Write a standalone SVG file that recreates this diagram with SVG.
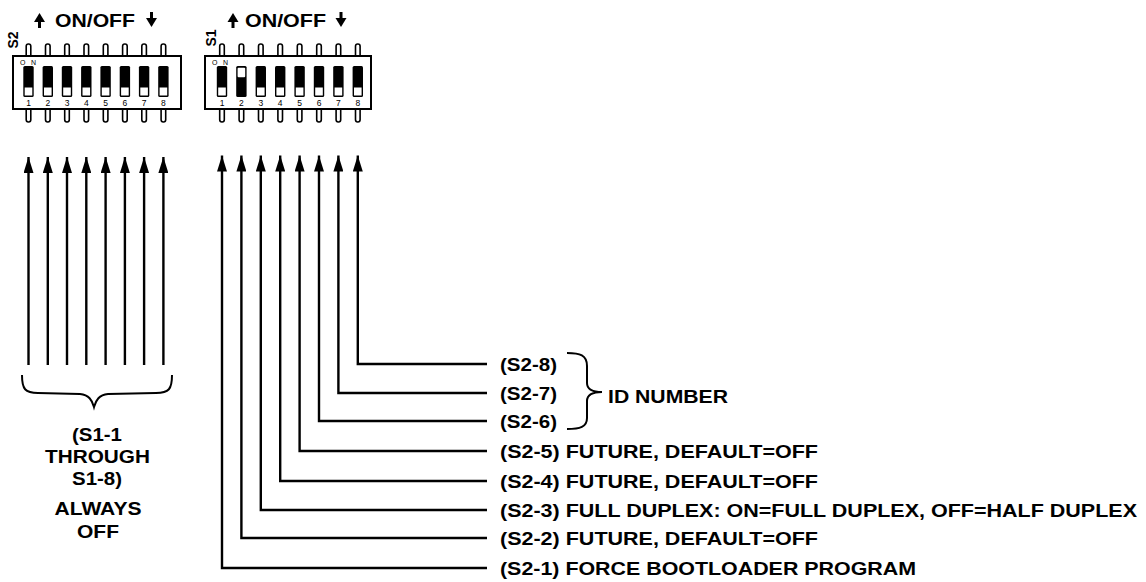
<svg xmlns="http://www.w3.org/2000/svg" width="1146" height="582" viewBox="0 0 1146 582">
<style>
  .t{font-family:"Liberation Sans",Arial,sans-serif;font-weight:bold;font-size:19px;fill:#000}
  .lbl{font-family:"Liberation Sans",Arial,sans-serif;font-weight:bold;font-size:14px;fill:#000}
  .num{font-family:"Liberation Sans",Arial,sans-serif;font-size:8.5px;fill:#000;text-anchor:middle}
  .on{font-family:"Liberation Sans",Arial,sans-serif;font-size:7px;fill:#000}
  .pin{fill:#fff;stroke:#000;stroke-width:1.6}
  .box{fill:#fff;stroke:#000;stroke-width:2}
  .sw{fill:#000}
  .wh{fill:#fff}
  .ln{fill:none;stroke:#000;stroke-width:2.4}
  .br{fill:none;stroke:#000;stroke-width:2}
</style>
<defs>
  <marker id="ah" viewBox="0 0 16 10" refX="16" refY="5" markerWidth="16" markerHeight="10" markerUnits="userSpaceOnUse" orient="auto">
    <path d="M0,0 L16,5 L0,10 z" fill="#000"/>
  </marker>
  <g id="pins">
    <rect class="pin" x="-2.3" y="44" width="4.6" height="15" rx="2.2"/>
    <rect class="pin" x="-2.3" y="106" width="4.6" height="16" rx="2.2"/>
  </g>
  <g id="swoff">
    <rect class="sw" x="-5.2" y="66" width="10.4" height="31" rx="1.5"/>
    <rect class="wh" x="-3.8" y="87.5" width="7.6" height="8"/>
  </g>
  <g id="swon">
    <rect class="sw" x="-5.2" y="66" width="10.4" height="31" rx="1.5"/>
    <rect class="wh" x="-3.8" y="67.8" width="7.6" height="9.5" rx="1"/>
  </g>
  <g id="upa">
    <path d="M0,-14 L-5.5,-5 L5.5,-5 z" fill="#000"/>
    <rect x="-1.5" y="-6" width="3" height="7" fill="#000"/>
  </g>
  <g id="dna">
    <rect x="-1.5" y="-14" width="3" height="7" fill="#000"/>
    <path d="M-5.5,-8 L5.5,-8 L0,1 z" fill="#000"/>
  </g>
</defs>

<g id="switch-s2">
  <use href="#upa" x="39.5" y="27"/>
  <text class="t" x="55" y="26.7" textLength="80" lengthAdjust="spacingAndGlyphs">ON/OFF</text>
  <use href="#dna" x="151.5" y="26"/>
  <text class="lbl" transform="translate(18,40) rotate(-90)" text-anchor="middle">S2</text>
  <use href="#pins" x="28.5"/><use href="#pins" x="47.8"/><use href="#pins" x="67"/><use href="#pins" x="86.3"/>
  <use href="#pins" x="105.6"/><use href="#pins" x="124.9"/><use href="#pins" x="144.1"/><use href="#pins" x="163.4"/>
  <rect class="box" x="13" y="56" width="168" height="53"/>
  <text class="on" x="20" y="64.5" textLength="16" lengthAdjust="spacing">ON</text>
  <use href="#swoff" x="28.5"/><use href="#swoff" x="47.8"/><use href="#swoff" x="67"/><use href="#swoff" x="86.3"/>
  <use href="#swoff" x="105.6"/><use href="#swoff" x="124.9"/><use href="#swoff" x="144.1"/><use href="#swoff" x="163.4"/>
  <text class="num" x="28.5" y="106">1</text><text class="num" x="47.8" y="106">2</text>
  <text class="num" x="67" y="106">3</text><text class="num" x="86.3" y="106">4</text>
  <text class="num" x="105.6" y="106">5</text><text class="num" x="124.9" y="106">6</text>
  <text class="num" x="144.1" y="106">7</text><text class="num" x="163.4" y="106">8</text>
</g>

<g id="switch-s1">
  <use href="#upa" x="233" y="27"/>
  <text class="t" x="245" y="26.7" textLength="81" lengthAdjust="spacingAndGlyphs">ON/OFF</text>
  <use href="#dna" x="341" y="26"/>
  <text class="lbl" transform="translate(216,38) rotate(-90)" text-anchor="middle">S1</text>
  <use href="#pins" x="222"/><use href="#pins" x="241.4"/><use href="#pins" x="260.8"/><use href="#pins" x="280.2"/>
  <use href="#pins" x="299.6"/><use href="#pins" x="319"/><use href="#pins" x="338.4"/><use href="#pins" x="357.8"/>
  <rect class="box" x="205" y="56" width="166" height="53"/>
  <text class="on" x="212" y="64.5" textLength="16" lengthAdjust="spacing">ON</text>
  <use href="#swoff" x="222"/><use href="#swon" x="241.4"/><use href="#swoff" x="260.8"/><use href="#swoff" x="280.2"/>
  <use href="#swoff" x="299.6"/><use href="#swoff" x="319"/><use href="#swoff" x="338.4"/><use href="#swoff" x="357.8"/>
  <text class="num" x="222" y="106">1</text><text class="num" x="241.4" y="106">2</text>
  <text class="num" x="260.8" y="106">3</text><text class="num" x="280.2" y="106">4</text>
  <text class="num" x="299.6" y="106">5</text><text class="num" x="319" y="106">6</text>
  <text class="num" x="338.4" y="106">7</text><text class="num" x="357.8" y="106">8</text>
</g>

<g id="connectors">
  <path class="ln" marker-end="url(#ah)" d="M28.5,365 V157"/>
  <path class="ln" marker-end="url(#ah)" d="M47.8,365 V157"/>
  <path class="ln" marker-end="url(#ah)" d="M67,365 V157"/>
  <path class="ln" marker-end="url(#ah)" d="M86.3,365 V157"/>
  <path class="ln" marker-end="url(#ah)" d="M105.6,365 V157"/>
  <path class="ln" marker-end="url(#ah)" d="M124.9,365 V157"/>
  <path class="ln" marker-end="url(#ah)" d="M144.1,365 V157"/>
  <path class="ln" marker-end="url(#ah)" d="M163.4,365 V157"/>

  <path class="ln" marker-end="url(#ah)" d="M487,568 H222 V155.5"/>
  <path class="ln" marker-end="url(#ah)" d="M487,538 H241.4 V155.5"/>
  <path class="ln" marker-end="url(#ah)" d="M487,510 H260.8 V155.5"/>
  <path class="ln" marker-end="url(#ah)" d="M487,481 H280.2 V155.5"/>
  <path class="ln" marker-end="url(#ah)" d="M487,451 H299.6 V155.5"/>
  <path class="ln" marker-end="url(#ah)" d="M487,421 H319 V155.5"/>
  <path class="ln" marker-end="url(#ah)" d="M487,393 H338.4 V155.5"/>
  <path class="ln" marker-end="url(#ah)" d="M487,364 H357.8 V155.5"/>
</g>

<g id="always-off">
  <path class="br" d="M22,375 C22,389 25,393 38,393 L80,394 C89,395 92,400 94,407 C96,400 99,395 108,394 L156,393 C169,393 172,389 172,375"/>
  <text class="t" x="97" y="441" text-anchor="middle" textLength="50" lengthAdjust="spacingAndGlyphs">(S1-1</text>
  <text class="t" x="97.5" y="463" text-anchor="middle" textLength="105" lengthAdjust="spacingAndGlyphs">THROUGH</text>
  <text class="t" x="97" y="485" text-anchor="middle" textLength="50" lengthAdjust="spacingAndGlyphs">S1-8)</text>
  <text class="t" x="98" y="515" text-anchor="middle" textLength="87" lengthAdjust="spacingAndGlyphs">ALWAYS</text>
  <text class="t" x="98" y="538" text-anchor="middle" textLength="42" lengthAdjust="spacingAndGlyphs">OFF</text>
</g>

<g id="labels">
  <text class="t" x="500" y="371" textLength="57" lengthAdjust="spacingAndGlyphs">(S2-8)</text>
  <text class="t" x="500" y="400" textLength="57" lengthAdjust="spacingAndGlyphs">(S2-7)</text>
  <text class="t" x="500" y="428" textLength="57" lengthAdjust="spacingAndGlyphs">(S2-6)</text>
  <text class="t" x="500" y="458" textLength="318" lengthAdjust="spacingAndGlyphs">(S2-5) FUTURE, DEFAULT=OFF</text>
  <text class="t" x="500" y="488" textLength="318" lengthAdjust="spacingAndGlyphs">(S2-4) FUTURE, DEFAULT=OFF</text>
  <text class="t" x="500" y="517" textLength="637" lengthAdjust="spacingAndGlyphs">(S2-3) FULL DUPLEX: ON=FULL DUPLEX, OFF=HALF DUPLEX</text>
  <text class="t" x="500" y="545" textLength="318" lengthAdjust="spacingAndGlyphs">(S2-2) FUTURE, DEFAULT=OFF</text>
  <text class="t" x="500" y="575" textLength="416" lengthAdjust="spacingAndGlyphs">(S2-1) FORCE BOOTLOADER PROGRAM</text>
</g>

<g id="id-number">
  <path class="br" d="M567,353 C580,353 587,355 587,366 L587,383 C587,389 592,392 602,392 C592,392 587,395 587,401 L587,418 C587,427 580,429 567,429"/>
  <text class="t" x="608" y="403" textLength="120" lengthAdjust="spacingAndGlyphs">ID NUMBER</text>
</g>
</svg>
